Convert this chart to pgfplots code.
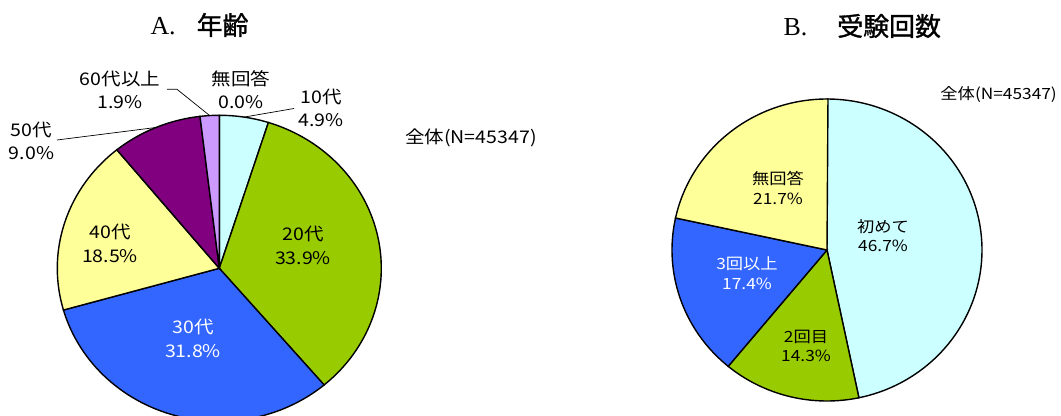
\documentclass[border=0pt]{standalone}
\usepackage{pgfplots}
\pgfplotsset{compat=1.18}
\usepackage{graphicx}
\usepackage{fontspec}
\setmainfont{Noto Sans CJK JP}
\newfontfamily\serifl{Liberation Serif}
\newfontfamily\titcjk[FakeBold=1.2]{Noto Sans CJK JP}
\definecolor{cA}{HTML}{CCFFFF}
\definecolor{cB}{HTML}{99CC00}
\definecolor{cC}{HTML}{3366FF}
\definecolor{cD}{HTML}{FFFF99}
\definecolor{cE}{HTML}{800080}
\definecolor{cF}{HTML}{CC99FF}
\newcommand\labA{\fontsize{17.5}{23.5}\selectfont}
\newcommand\labB{\fontsize{15.5}{20}\selectfont}
\newcommand\titf{\fontsize{26}{28}\selectfont}
\newcommand\wide[1]{\scalebox{1.12}[1]{\begin{tabular}{@{}c@{}}#1\end{tabular}}}
% pie helpers: centre, radii; slices go clockwise from 12 o'clock
\newcommand\piestart[4]{\gdef\pcx{#1}\gdef\pcy{#2}\gdef\prx{#3}\gdef\pry{#4}\gdef\pcum{0}}
\newcommand\pieslice[2]{%
  \pgfmathsetmacro\pa{90-3.6*(\pcum+#1)}%
  \pgfmathsetmacro\pb{90-3.6*\pcum}%
  \edef\doplot{\noexpand\addplot[fill=#2, draw=black, line width=1.4bp,
     domain=\pa:\pb, samples=90, variable=\noexpand\t]
     ({\pcx+\prx*cos(\noexpand\t)},{\pcy+\pry*sin(\noexpand\t)}) -- (axis cs:\pcx,\pcy) -- cycle;}%
  \doplot
  \pgfmathsetmacro\newcum{\pcum+#1}\xdef\pcum{\newcum}}
\begin{document}
\begin{tikzpicture}
\begin{axis}[scale only axis, width=1061bp, height=416bp,
  xmin=0, xmax=1061, ymin=0, ymax=416, hide axis, clip=true]
% ---- A. age (percent) ----
\piestart{219.3}{147.7}{162}{153}
\pieslice{4.9}{cA}   % 10代
\pieslice{33.9}{cB}  % 20代
\pieslice{31.8}{cC}  % 30代
\pieslice{18.5}{cD}  % 40代
\pieslice{9.0}{cE}   % 50代
\pieslice{1.9}{cF}   % 60代以上
% 無回答 0.0 -> no area
% ---- B. number of attempts (percent) ----
\piestart{827}{166}{155}{151}
\pieslice{46.7}{cA}  % 初めて
\pieslice{14.3}{cB}  % 2回目
\pieslice{17.4}{cC}  % 3回以上
\pieslice{21.7}{cD}  % 無回答
% leader lines
\addplot[black, line width=0.7bp] coordinates {(57,276) (155.9,288.5)};
\addplot[black, line width=0.7bp] coordinates {(167,326.7) (177,326.7) (209.7,300.4)};
\addplot[black, line width=0.7bp] coordinates {(294,307.5) (244.1,298.9)};
% titles
\node[font=\titf, anchor=west] at (axis cs:147,391) {{\serifl A.}\hspace{21bp}{\titcjk 年齢}};
\node[font=\titf, anchor=west] at (axis cs:780,390) {{\serifl B.}\hspace{30bp}{\titcjk 受験回数}};
% labels A
\node[font=\labA] at (axis cs:241,323.5) {\wide{無回答\\0.0\%}};
\node[font=\labA] at (axis cs:120,323.5) {\wide{60代以上\\1.9\%}};
\node[font=\labA] at (axis cs:321,305.5) {\wide{10代\\4.9\%}};
\node[font=\labA] at (axis cs:31.5,272.5) {\wide{50代\\9.0\%}};
\node[font=\labA] at (axis cs:110,170) {\wide{40代\\18.5\%}};
\node[font=\labA] at (axis cs:303,168) {\wide{20代\\33.9\%}};
\node[font=\labA, text=white] at (axis cs:193,75) {\wide{30代\\31.8\%}};
\node[font=\labA, anchor=west, inner sep=0pt] at (axis cs:405,278) {\scalebox{1.12}[1]{全体(N=45347)}};
% labels B
\node[font=\labB, anchor=east, inner sep=0pt] at (axis cs:1057,321.7) {\scalebox{1.12}[1]{全体(N=45347)}};
\node[font=\labB] at (axis cs:778,225.5) {\wide{無回答\\21.7\%}};
\node[font=\labB] at (axis cs:883,178) {\wide{初めて\\46.7\%}};
\node[font=\labB, text=white] at (axis cs:747,140.5) {\wide{3回以上\\17.4\%}};
\node[font=\labB] at (axis cs:806,68) {\wide{2回目\\14.3\%}};
\end{axis}
\pgfresetboundingbox
\path (current axis.south west) rectangle (current axis.north east);
\end{tikzpicture}
\end{document}
